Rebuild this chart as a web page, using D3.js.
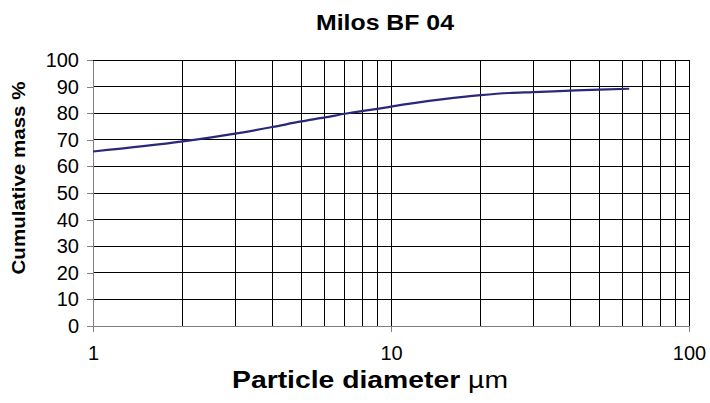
<!DOCTYPE html>
<html lang="en">
    <head>
        <meta charset="utf-8">
        <title>Milos BF 04</title>
        <script src="https://d3js.org/d3.v7.min.js" charset="utf-8"></script>
        <style>
        body {
            margin: 0;
            background: #fff;
            font-family: "Liberation Sans", Arial, sans-serif;
        }
        .grid line {
            stroke: #000;
            stroke-width: 1;
            shape-rendering: crispEdges;
        }
        .axis path,
        .axis line {
            fill: none;
            stroke: #808080;
            shape-rendering: crispEdges;
        }
        </style>
    </head>
    <body>
        <div id="vis-container"></div>
        <script type="text/javascript">
        // data
        var diameter = [1, 2, 3, 4, 5, 6, 7, 8, 9, 10, 15, 20, 25, 30, 40, 50, 63];
        var cumMass  = [65.6, 69.4, 72.3, 74.8, 76.9, 78.4, 79.8, 80.8, 81.6, 82.5, 85.3, 86.8, 87.6, 87.9, 88.5, 88.9, 89.2];
        var yTicks = [0, 10, 20, 30, 40, 50, 60, 70, 80, 90, 100];
        var xMajor = [1, 10, 100];
        var xGrid  = [2, 3, 4, 5, 6, 7, 8, 9, 10, 20, 30, 40, 50, 60, 70, 80, 90, 100];

        var width = 710, height = 403;
        var margin = { top: 60, right: 21, bottom: 77, left: 93 };

        var svg = d3.select("#vis-container").append("svg")
            .attr("width", width)
            .attr("height", height);

        var xScale = d3.scaleLog()
            .domain([1, 100])
            .range([margin.left, width - margin.right]);
        var yScale = d3.scaleLinear()
            .domain([0, 100])
            .range([height - margin.bottom, margin.top]);

        // grid lines
        var grid = svg.append("g").attr("class", "grid");
        grid.selectAll(".hgrid")
            .data(yTicks.filter(function(d) { return d > 0; }))
            .enter().append("line")
            .attr("x1", xScale(1)).attr("x2", xScale(100))
            .attr("y1", function(d) { return yScale(d); })
            .attr("y2", function(d) { return yScale(d); });
        grid.selectAll(".vgrid")
            .data(xGrid)
            .enter().append("line")
            .attr("x1", function(d) { return xScale(d); })
            .attr("x2", function(d) { return xScale(d); })
            .attr("y1", yScale(0)).attr("y2", yScale(100));

        // axes
        var xAxis = d3.axisBottom(xScale)
            .tickValues(xMajor)
            .tickFormat(d3.format("d"))
            .tickSizeInner(6).tickSizeOuter(0)
            .tickPadding(14);
        var yAxis = d3.axisLeft(yScale)
            .tickValues(yTicks)
            .tickSizeInner(6).tickSizeOuter(0)
            .tickPadding(8);

        svg.append("g")
            .attr("class", "x axis")
            .attr("transform", "translate(0," + yScale(0) + ")")
            .call(xAxis)
            .selectAll("text")
            .attr("font-family", null)
            .style("font-size", "20px")
            .style("fill", "#000");
        svg.append("g")
            .attr("class", "y axis")
            .attr("transform", "translate(" + xScale(1) + ",0)")
            .call(yAxis)
            .selectAll("text")
            .attr("font-family", null)
            .style("font-size", "20px")
            .style("fill", "#000");

        // the curve
        var line = d3.line()
            .x(function(d, i) { return xScale(diameter[i]); })
            .y(function(d) { return yScale(d); })
            .curve(d3.curveMonotoneX);
        svg.append("path")
            .datum(cumMass)
            .attr("fill", "none")
            .attr("stroke", "#2a2878")
            .attr("stroke-width", 2.2)
            .attr("d", line);

        // titles
        svg.append("text")
            .attr("x", 385).attr("y", 30)
            .attr("text-anchor", "middle")
            .style("font-size", "22px").style("font-weight", "bold")
            .attr("textLength", 138).attr("lengthAdjust", "spacingAndGlyphs")
            .text("Milos BF 04");

        var xt = svg.append("text")
            .attr("x", 370).attr("y", 388)
            .attr("text-anchor", "middle")
            .style("font-size", "23px").style("font-weight", "bold")
            .attr("textLength", 276).attr("lengthAdjust", "spacingAndGlyphs");
        xt.append("tspan").text("Particle diameter ");
        xt.append("tspan").style("font-weight", "normal").text("\u00b5m");

        svg.append("text")
            .attr("transform", "translate(25,178) rotate(-90)")
            .attr("text-anchor", "middle")
            .style("font-size", "19px").style("font-weight", "bold")
            .attr("textLength", 193).attr("lengthAdjust", "spacingAndGlyphs")
            .text("Cumulative mass %");
        </script>
    </body>
</html>
